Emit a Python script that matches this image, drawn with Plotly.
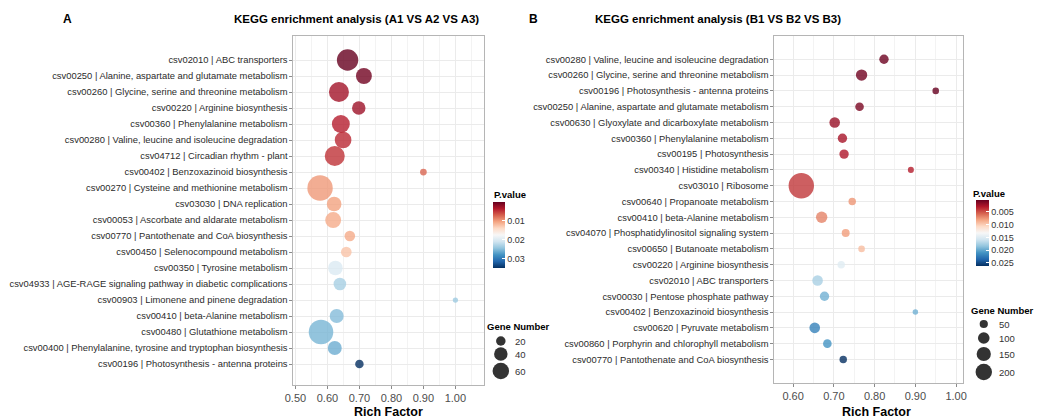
import plotly.graph_objects as go
import plotly.express as px

W, H = 1049, 419
FONT = "Liberation Sans, Arial, sans-serif"

# ---------------- Panel A: A1 VS A2 VS A3 ----------------
a_terms = [
    "csv02010 | ABC transporters",
    "csv00250 | Alanine, aspartate and glutamate metabolism",
    "csv00260 | Glycine, serine and threonine metabolism",
    "csv00220 | Arginine biosynthesis",
    "csv00360 | Phenylalanine metabolism",
    "csv00280 | Valine, leucine and isoleucine degradation",
    "csv04712 | Circadian rhythm - plant",
    "csv00402 | Benzoxazinoid biosynthesis",
    "csv00270 | Cysteine and methionine metabolism",
    "csv03030 | DNA replication",
    "csv00053 | Ascorbate and aldarate metabolism",
    "csv00770 | Pantothenate and CoA biosynthesis",
    "csv00450 | Selenocompound metabolism",
    "csv00350 | Tyrosine metabolism",
    "csv04933 | AGE-RAGE signaling pathway in diabetic complications",
    "csv00903 | Limonene and pinene degradation",
    "csv00410 | beta-Alanine metabolism",
    "csv00480 | Glutathione metabolism",
    "csv00400 | Phenylalanine, tyrosine and tryptophan biosynthesis",
    "csv00196 | Photosynthesis - antenna proteins",
]
a_rich = [0.663, 0.714, 0.636, 0.698, 0.642, 0.649, 0.623, 0.900, 0.577, 0.621,
          0.618, 0.670, 0.659, 0.625, 0.639, 1.000, 0.629, 0.580, 0.623, 0.700]
a_genes = [101, 56, 88, 40, 71, 61, 88, 10, 142, 47,
           56, 25, 25, 47, 35, 6, 43, 133, 43, 16]
a_pval = [0.0003, 0.0008, 0.0030, 0.0028, 0.0040, 0.0045, 0.0050, 0.0075, 0.0100, 0.0105,
          0.0110, 0.0110, 0.0125, 0.0200, 0.0232, 0.0238, 0.0250, 0.0255, 0.0260, 0.0347]
a_pval_ticks = [0.01, 0.02, 0.03]
a_size_breaks = [20, 40, 60]

# ---------------- Panel B: B1 VS B2 VS B3 ----------------
b_terms = [
    "csv00280 | Valine, leucine and isoleucine degradation",
    "csv00260 | Glycine, serine and threonine metabolism",
    "csv00196 | Photosynthesis - antenna proteins",
    "csv00250 | Alanine, aspartate and glutamate metabolism",
    "csv00630 | Glyoxylate and dicarboxylate metabolism",
    "csv00360 | Phenylalanine metabolism",
    "csv00195 | Photosynthesis",
    "csv00340 | Histidine metabolism",
    "csv03010 | Ribosome",
    "csv00640 | Propanoate metabolism",
    "csv00410 | beta-Alanine metabolism",
    "csv04070 | Phosphatidylinositol signaling system",
    "csv00650 | Butanoate metabolism",
    "csv00220 | Arginine biosynthesis",
    "csv02010 | ABC transporters",
    "csv00030 | Pentose phosphate pathway",
    "csv00402 | Benzoxazinoid biosynthesis",
    "csv00620 | Pyruvate metabolism",
    "csv00860 | Porphyrin and chlorophyll metabolism",
    "csv00770 | Pantothenate and CoA biosynthesis",
]
b_rich = [0.823, 0.768, 0.950, 0.763, 0.702, 0.721, 0.725, 0.889, 0.620, 0.745,
          0.670, 0.729, 0.768, 0.718, 0.660, 0.677, 0.900, 0.653, 0.684, 0.723]
b_genes = [65, 96, 32, 55, 83, 65, 65, 27, 478, 41,
           96, 47, 32, 41, 83, 65, 22, 83, 55, 41]
b_pval = [0.0005, 0.0006, 0.0003, 0.0010, 0.0020, 0.0025, 0.0028, 0.0030, 0.0040, 0.0075,
          0.0068, 0.0078, 0.0092, 0.0148, 0.0175, 0.0195, 0.0195, 0.0220, 0.0210, 0.0262]
b_pval_ticks = [0.005, 0.010, 0.015, 0.020, 0.025]
b_size_breaks = [50, 100, 150, 200]

# P.value is shown with small values on top of the colour bar, so colours are
# mapped on the negated value with a blue -> red scale.
RDBU_UP = list(reversed(px.colors.diverging.RdBu))
A_SIZEREF = 0.44
B_SIZEREF = 1.48
BUBBLE_ALPHA = 0.8


def px_x(x):
    return x / W


def px_y(y):
    return 1 - y / H


def neg(values):
    return [-v for v in values]


fig = go.Figure()

a_pos = list(range(1, len(a_terms) + 1))
b_pos = list(range(1, len(b_terms) + 1))

HOVER = ("%{text}<br>Rich Factor: %{x}<br>Gene Number: %{customdata[0]}"
         "<br>P.value: %{customdata[1]}<extra></extra>")

fig.add_trace(go.Scatter(
    x=a_rich, y=a_pos, mode="markers", xaxis="x", yaxis="y",
    text=a_terms, customdata=list(zip(a_genes, a_pval)),
    marker=dict(size=a_genes, sizemode="area", sizeref=A_SIZEREF,
                color=neg(a_pval), coloraxis="coloraxis", opacity=BUBBLE_ALPHA,
                line=dict(width=0)),
    hovertemplate=HOVER,
))
fig.add_trace(go.Scatter(
    x=b_rich, y=b_pos, mode="markers", xaxis="x2", yaxis="y2",
    text=b_terms, customdata=list(zip(b_genes, b_pval)),
    marker=dict(size=b_genes, sizemode="area", sizeref=B_SIZEREF,
                color=neg(b_pval), coloraxis="coloraxis2", opacity=BUBBLE_ALPHA,
                line=dict(width=0)),
    hovertemplate=HOVER,
))

# size legends drawn on a pixel-coordinate overlay axis
a_leg_y = [341, 354, 371]
b_leg_y = [324, 338, 354, 372]
fig.add_trace(go.Scatter(
    x=[498] * len(a_size_breaks), y=a_leg_y, mode="markers", xaxis="x3", yaxis="y3",
    marker=dict(size=a_size_breaks, sizemode="area", sizeref=A_SIZEREF,
                color="black", opacity=BUBBLE_ALPHA, line=dict(width=0)),
    hoverinfo="skip",
))
fig.add_trace(go.Scatter(
    x=[987] * len(b_size_breaks), y=b_leg_y, mode="markers", xaxis="x3", yaxis="y3",
    marker=dict(size=b_size_breaks, sizemode="area", sizeref=B_SIZEREF,
                color="black", opacity=BUBBLE_ALPHA, line=dict(width=0)),
    hoverinfo="skip",
))

GRID = "#ebebeb"
MINOR = "#f3f3f3"
BORDER = "#b5b5b5"
TICKC = "#8a8a8a"
XTICKFONT = dict(family=FONT, size=11, color="#4d4d4d")
YTICKFONT = dict(family=FONT, size=9.4, color="#2b2b2b")


def x_axis(domain, rng, tick0, anchor):
    return dict(domain=domain, range=rng, anchor=anchor, tick0=tick0, dtick=0.1,
                tickformat=".2f", showgrid=True, gridcolor=GRID, gridwidth=1,
                minor=dict(dtick=0.05, tick0=tick0, showgrid=True, gridcolor=MINOR, ticks=""),
                showline=True, mirror=True, linecolor=BORDER, linewidth=1,
                ticks="outside", ticklen=3, tickcolor=TICKC, tickfont=XTICKFONT,
                zeroline=False, fixedrange=True)


def y_axis(domain, rng, pos, terms, anchor):
    return dict(domain=domain, range=rng, anchor=anchor, tickmode="array",
                tickvals=pos, ticktext=terms, showgrid=True, gridcolor=GRID,
                showline=True, mirror=True, linecolor=BORDER, linewidth=1,
                ticks="outside", ticklen=3, tickcolor=TICKC, tickfont=YTICKFONT,
                zeroline=False, automargin=False, fixedrange=True)


def colorbar(x_left, y_top, length, thick, tickvals, fmt):
    return dict(x=px_x(x_left), xanchor="left", y=px_y(y_top), yanchor="top",
                len=length, lenmode="pixels", thickness=thick, thicknessmode="pixels",
                outlinewidth=0, xpad=0, ypad=0, tickmode="array", tickvals=neg(tickvals),
                ticktext=[fmt.format(v) for v in tickvals],
                ticks="inside", ticklen=3, tickcolor="white",
                tickfont=dict(family=FONT, size=9, color="#333333"))


def label(text, x, y, size, bold=False, xanchor="center", color="#000000"):
    return dict(text=f"<b>{text}</b>" if bold else text, x=px_x(x), y=px_y(y),
                xref="paper", yref="paper", xanchor=xanchor, yanchor="middle",
                showarrow=False, font=dict(family=FONT, size=size, color=color))


annotations = [
    label("A", 59, 19, 12, bold=True),
    label("KEGG enrichment analysis (A1 VS A2 VS A3)", 352, 19, 11.5, bold=True),
    label("B", 531, 19, 12, bold=True),
    label("KEGG enrichment analysis (B1 VS B2 VS B3)", 718, 19, 11.5, bold=True),
    label("Rich Factor", 384.5, 412, 12.5, bold=True),
    label("Rich Factor", 878, 412, 12.5, bold=True),
    label("P.value", 489, 194, 9.5, bold=True, xanchor="left"),
    label("P.value", 974, 193, 9.5, bold=True, xanchor="left"),
    label("Gene Number", 482, 326, 9.5, bold=True, xanchor="left"),
    label("Gene Number", 972, 310, 9.5, bold=True, xanchor="left"),
]
for v, y in zip(a_size_breaks, a_leg_y):
    annotations.append(label(str(v), 510, y, 9.5, xanchor="left", color="#333333"))
for v, y in zip(b_size_breaks, b_leg_y):
    annotations.append(label(str(v), 1000, y, 9.5, xanchor="left", color="#333333"))

fig.update_layout(
    width=W, height=H, margin=dict(l=0, r=0, t=0, b=0),
    paper_bgcolor="white", plot_bgcolor="rgba(0,0,0,0)",
    showlegend=False, font=dict(family=FONT),
    xaxis=x_axis([288 / W, 481 / W], [0.4938, 1.0895], 0.5, "y"),
    yaxis=y_axis([px_y(385), px_y(36)], [21.31, -0.5], a_pos, a_terms, "x"),
    xaxis2=x_axis([775 / W, 966 / W], [0.554, 1.017], 0.6, "y2"),
    yaxis2=y_axis([px_y(383), px_y(36)], [21.49, -0.475], b_pos, b_terms, "x2"),
    xaxis3=dict(domain=[0, 1], range=[0, W], anchor="y3", visible=False, fixedrange=True),
    yaxis3=dict(domain=[0, 1], range=[H, 0], anchor="x3", visible=False, fixedrange=True),
    coloraxis=dict(colorscale=RDBU_UP, cmin=-max(a_pval), cmax=-min(a_pval),
                   colorbar=colorbar(490, 202, 66, 12, a_pval_ticks, "{:.2f}")),
    coloraxis2=dict(colorscale=RDBU_UP, cmin=-max(b_pval), cmax=-min(b_pval),
                    colorbar=colorbar(979, 200, 66, 13, b_pval_ticks, "{:.3f}")),
    annotations=annotations,
)

fig.write_html("out.html")
